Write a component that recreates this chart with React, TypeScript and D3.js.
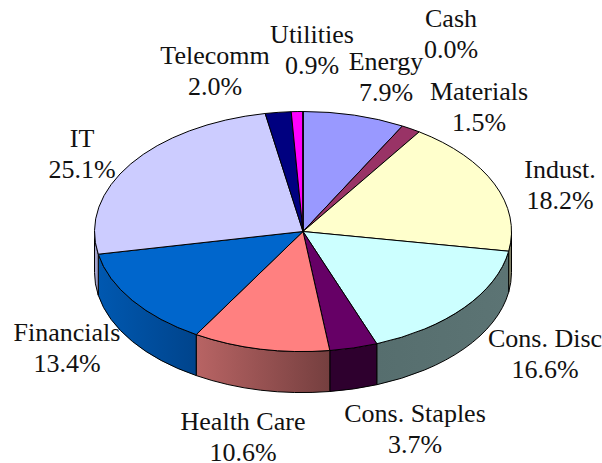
import React from "react";
import * as d3 from "d3";

const categories = ["Energy","Materials","Indust.","Cons. Disc","Cons. Staples","Health Care","Financials","IT","Telecomm","Utilities","Cash"];
const values = [7.9,1.5,18.2,16.6,3.7,10.6,13.4,25.1,2.0,0.9,0.0];
const topColors = ["#9999ff","#993366","#ffffcc","#ccffff","#660066","#ff8080","#0066cc","#ccccff","#000080","#ff00ff","#00ffff"];
const sideLeft = ["#7a7acc","#7a2952","#a3a382","#566e6e","#2e002e","#b86464","#0058b0","#a3a3cc","#000066","#cc00cc","#00cccc"];
const sideRight = ["#7a7acc","#7a2952","#6e6e58","#5c7474","#2e002e","#753f3f","#00448c","#a3a3cc","#000066","#cc00cc","#00cccc"];
const labelPos: [number, number][] = [[386,70],[479,100],[560,178],[545,347],[415,422],[243,430],[67,341],[82,147],[215,64],[312,43],[451,27]];
const labelDy = 31;

const cx = 303, cy = 231.5, rx = 208.5, ry = 120, depth = 41;

export default function App() {
  const pie = d3.pie<number>().value(d => d).sort(null);
  const arcs = pie(values);
  const arc = d3.arc<d3.PieArcDatum<number>>().innerRadius(0).outerRadius(rx);
  const pt = (a: number) => [cx + rx * Math.sin(a), cy - ry * Math.cos(a)];
  const lo = Math.PI / 2, hi = Math.PI * 1.5;
  const sides = arcs.map((d, i) => {
    const a = Math.max(d.startAngle, lo), b = Math.min(d.endAngle, hi);
    if (b <= a) return null;
    const [x0, y0] = pt(a), [x1, y1] = pt(b);
    const path = `M${x0},${y0}A${rx},${ry} 0 0 1 ${x1},${y1}L${x1},${y1 + depth}A${rx},${ry} 0 0 0 ${x0},${y0 + depth}Z`;
    return { i, path, x0: Math.min(x0, x1), x1: Math.max(x0, x1) };
  }).filter(Boolean) as { i: number; path: string; x0: number; x1: number }[];

  return (
    <svg width={602} height={463} style={{ position: "absolute", left: 0, top: 0, background: "#fff" }}>
      <defs>
        {sides.map(s => (
          <linearGradient key={s.i} id={`g${s.i}`} gradientUnits="userSpaceOnUse" x1={s.x0} x2={s.x1} y1={0} y2={0}>
            <stop offset="0" stopColor={sideLeft[s.i]} />
            <stop offset="1" stopColor={sideRight[s.i]} />
          </linearGradient>
        ))}
      </defs>
      {sides.map(s => (
        <path key={s.i} d={s.path} fill={`url(#g${s.i})`} stroke="#000" strokeWidth={1} strokeLinejoin="round" />
      ))}
      <g transform={`translate(${cx},${cy}) scale(1,${ry / rx})`}>
        {arcs.map((d, i) => (
          <path key={i} d={arc(d) || ""} fill={topColors[i]} stroke="#000" strokeWidth={1} vectorEffect="non-scaling-stroke" strokeLinejoin="round" />
        ))}
      </g>
      <g fontFamily="'Liberation Serif', serif" fontSize={26} fill="#111" textAnchor="middle">
        {categories.map((c, i) => (
          <text key={c} x={labelPos[i][0]} y={labelPos[i][1]}>
            <tspan x={labelPos[i][0]}>{c}</tspan>
            <tspan x={labelPos[i][0]} dy={labelDy}>{values[i].toFixed(1)}%</tspan>
          </text>
        ))}
      </g>
    </svg>
  );
}
